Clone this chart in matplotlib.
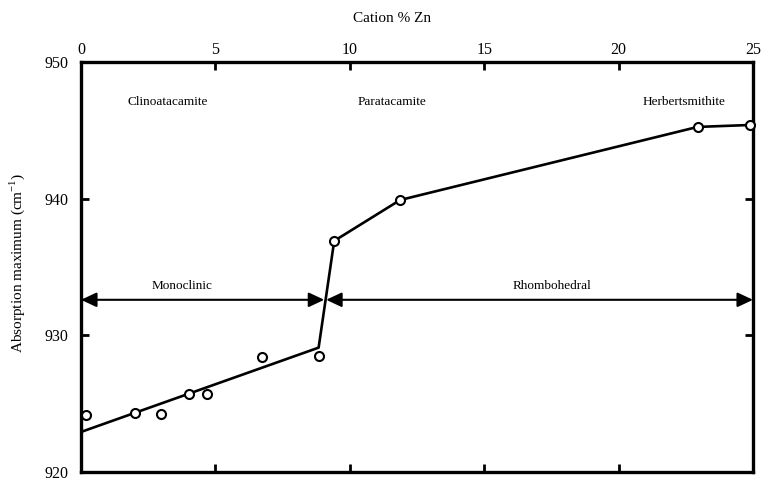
import matplotlib
matplotlib.use("Agg")
import matplotlib.pyplot as plt

# Data
pts_x = [0.19, 2.01, 2.98, 4.03, 4.69, 6.72, 8.84, 9.42, 11.87, 22.94, 24.88]
pts_y = [924.18, 924.32, 924.25, 925.71, 925.71, 928.42, 928.49, 936.91, 939.9, 945.25, 945.39]

fit_x = [0.0, 8.84, 9.42, 11.87, 22.94, 24.88]
fit_y = [922.93, 929.1, 936.91, 939.9, 945.25, 945.39]

mineral_names = ["Clinoatacamite", "Paratacamite", "Herbertsmithite"]
mineral_x = [3.24, 11.57, 22.45]
mineral_y = 947.07

phase_names = ["Monoclinic", "Rhombohedral"]
phase_ranges = [(0.0, 9.05), (9.12, 25.0)]
phase_label_x = [3.75, 17.52]
phase_label_y = 933.62
phase_arrow_y = 932.6

x_ticks = [0, 5, 10, 15, 20, 25]
y_ticks = [920, 930, 940, 950]

plt.rcParams['font.family'] = ['Liberation Serif', 'DejaVu Serif']
plt.rcParams['mathtext.fontset'] = 'custom'
plt.rcParams['mathtext.rm'] = 'Liberation Serif'

fig = plt.figure(figsize=(7.61, 4.78), dpi=100)
ax = fig.add_axes([81/761, 1-472/478, (753-81)/761, (472-62)/478])

ax.plot(fit_x, fit_y, color='black', lw=1.9, zorder=2)
ax.plot(pts_x, pts_y, 'o', mfc='white', mec='black', mew=1.5, ms=6.5, zorder=3, clip_on=False)

for n, x in zip(mineral_names, mineral_x):
    ax.text(x, mineral_y, n, ha='center', va='center', fontsize=9.5)

for n, x, (x0, x1) in zip(phase_names, phase_label_x, phase_ranges):
    ax.text(x, phase_label_y, n, ha='center', va='center', fontsize=9.5)
    ax.annotate('', xy=(x1, phase_arrow_y), xytext=(x0, phase_arrow_y),
                arrowprops=dict(arrowstyle='<|-|>,head_length=0.47,head_width=0.22',
                                mutation_scale=20, color='black', lw=1.5,
                                shrinkA=0, shrinkB=0), annotation_clip=False)

ax.set_xlim(0, 25)
ax.set_ylim(920, 950)
ax.set_xticks(x_ticks)
ax.set_yticks(y_ticks)
ax.xaxis.tick_top()
ax.tick_params(axis='both', direction='in', length=6, width=2, labelsize=11.5,
               top=True, bottom=True, left=True, right=True)
ax.tick_params(axis='x', pad=3, labelbottom=False, labeltop=True)
ax.tick_params(axis='y', pad=9)
for s in ax.spines.values():
    s.set_linewidth(2.4)

fig.text(392/761, 1-19/478, 'Cation % Zn', ha='center', va='center', fontsize=11)
fig.text(17/761, 1-263/478, r'Absorption maximum (cm$^{-1}$)', ha='center', va='center',
         rotation=90, fontsize=11)

fig.savefig('out.png', dpi=100)
